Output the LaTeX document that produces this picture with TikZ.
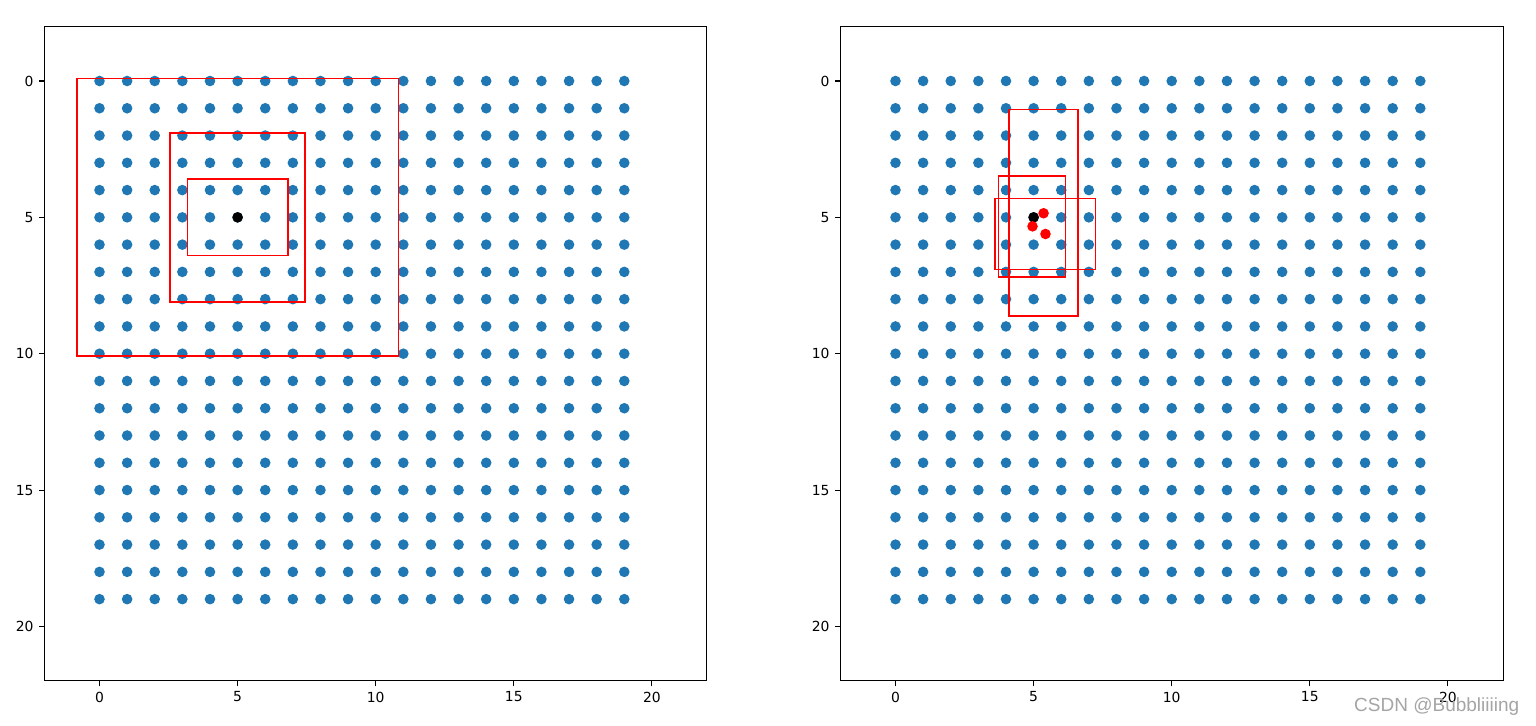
\documentclass[tikz,border=0pt]{standalone}
\usepackage{fontspec}
\setmainfont{DejaVu Sans}
\newfontfamily\wmfont{Liberation Sans}
\definecolor{mplblue}{HTML}{1F77B4}
\definecolor{wmgray}{RGB}{165,165,165}
\tikzset{
  axframe/.style={draw=black, line width=1.1bp},
  tickmark/.style={draw=black, line width=1.1bp},
  ticklabel/.style={font=\fontsize{13.9bp}{16bp}\selectfont, inner sep=0pt},
  anchorbox/.style={draw=red, line width=1.8bp, line join=miter},
  bluedot/.style={fill=mplblue},
  reddot/.style={fill=red},
  blackdot/.style={fill=black},
}
% box in pixel coordinates: left, top, right, bottom
\newcommand{\abox}[4]{\draw[anchorbox] (#1,#2) -- (#3,#2) -- (#3,#4) -- (#1,#4) -- cycle;}
\begin{document}
\begin{tikzpicture}[x=1bp,y=-1bp]
\useasboundingbox (0,0) rectangle (1536,726);
\fill[white] (0,0) -- (1536,0) -- (1536,726) -- (0,726) -- cycle;

% ---------- left plot ----------
\begin{scope}[shift={(99.5,81)}, x=27.62bp, y=-27.27bp]
  \foreach \i in {0,...,19}{\foreach \j in {0,...,19}{
    \fill[bluedot] (\i,\j) circle[radius=5.3bp];}}
  \fill[blackdot] (5,5) circle[radius=5.3bp];
  \foreach \t in {0,5,10,15,20}{
    \draw[tickmark] (\t,22) -- ++(0bp,-4.9bp);
    \node[ticklabel, anchor=north, yshift=-10.6bp] (Lx\t) at (\t,22) {\t};
    \draw[tickmark] (-2,\t) -- ++(-4.9bp,0bp);
    \node[ticklabel, anchor=east, xshift=-10.6bp] (Ly\t) at (-2,\t) {\t};
  }
\end{scope}
\abox{76.6}{78.5}{398.4}{356.3}
\abox{170.3}{133.3}{304.7}{301.6}
\abox{187.5}{179.2}{287.6}{255.5}
\draw[axframe] (44.5,26.5) -- (706.5,26.5) -- (706.5,680.5) -- (44.5,680.5) -- cycle;

% ---------- right plot ----------
\begin{scope}[shift={(895.5,81)}, x=27.62bp, y=-27.27bp]
  \foreach \i in {0,...,19}{\foreach \j in {0,...,19}{
    \fill[bluedot] (\i,\j) circle[radius=5.3bp];}}
  \fill[blackdot] (5,5) circle[radius=5.3bp];
  \fill[reddot] (5.36,4.85) circle[radius=5.3bp];
  \fill[reddot] (4.96,5.33) circle[radius=5.3bp];
  \fill[reddot] (5.43,5.61) circle[radius=5.3bp];
  \foreach \t in {0,5,10,15,20}{
    \draw[tickmark] (\t,22) -- ++(0bp,-4.9bp);
    \node[ticklabel, anchor=north, yshift=-10.6bp] (Rx\t) at (\t,22) {\t};
    \draw[tickmark] (-2,\t) -- ++(-4.9bp,0bp);
    \node[ticklabel, anchor=east, xshift=-10.6bp] (Ry\t) at (-2,\t) {\t};
  }
\end{scope}
\abox{1008.7}{109.6}{1078.2}{316.2}
\abox{998.4}{175.6}{1065.5}{277.1}
\abox{994.6}{198.4}{1095.5}{269.4}
\draw[axframe] (840.5,26.5) -- (1503.5,26.5) -- (1503.5,680.5) -- (840.5,680.5) -- cycle;

% ---------- watermark ----------
\node[anchor=base west, inner sep=0pt, text=wmgray,
      font=\wmfont\fontsize{19bp}{21bp}\selectfont] (wm) at (1354,711) {CSDN @Bubbliiiing};
\end{tikzpicture}
\end{document}
